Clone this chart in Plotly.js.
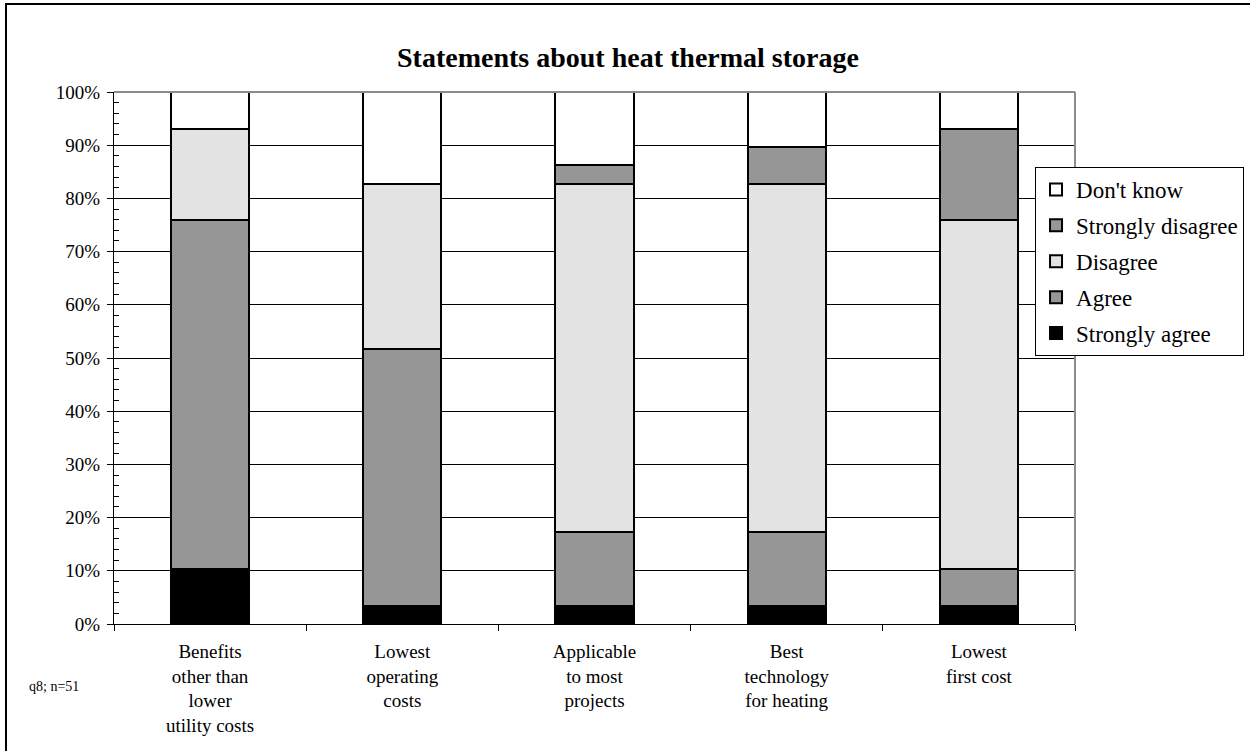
<!DOCTYPE html>
<html>
<head>
<meta charset="utf-8">
<script src="https://cdn.plot.ly/plotly-3.0.1.min.js"></script>
<style>
html,body{margin:0;padding:0;background:#fff;}
#wrap{position:relative;width:1250px;height:751px;overflow:hidden;}
#frame{position:absolute;left:5px;top:3px;width:1300px;height:800px;border-left:2px solid #000;border-top:2px solid #000;pointer-events:none;}
#chart{position:absolute;left:0;top:0;width:1250px;height:751px;}
</style>
</head>
<body>
<div id="wrap">
<div id="chart"></div>
<div id="frame"></div>
</div>
<script>
const categories = [
  "Benefits<br>other than<br>lower<br>utility costs",
  "Lowest<br>operating<br>costs",
  "Applicable<br>to most<br>projects",
  "Best<br>technology<br>for heating",
  "Lowest<br>first cost"
];
const stronglyAgree    = [10.3, 3.4, 3.4, 3.4, 3.4];
const agree            = [65.5, 48.3, 13.8, 13.8, 6.9];
const disagree         = [17.2, 31.0, 65.5, 65.5, 65.5];
const stronglyDisagree = [0.0, 0.0, 3.4, 6.9, 17.2];
const dontKnow         = [6.9, 17.2, 13.8, 10.3, 6.9];
const seriesNames = ["Strongly agree", "Agree", "Disagree", "Strongly disagree", "Don't know"];
const yTickVals = [0,10,20,30,40,50,60,70,80,90,100];
const yTickText = ["0%","10%","20%","30%","40%","50%","60%","70%","80%","90%","100%"];

const seriesData = [stronglyAgree, agree, disagree, stronglyDisagree, dontKnow];
const seriesColors = ["#000000", "#969696", "#E3E3E3", "#969696", "#FFFFFF"];
const serif = "Liberation Serif, Times New Roman, serif";

const traces = seriesData.map((vals, i) => ({
  type: "bar",
  name: seriesNames[i],
  x: categories,
  y: vals,
  legendgroup: "g" + i,
  legendrank: 1000 - i * 10,
  marker: {color: seriesColors[i], line: {color: "#000000", width: 2}},
  hoverinfo: "skip"
}));

const layout = {
  width: 1250, height: 751,
  margin: {l: 114, r: 175, t: 92, b: 127, autoexpand: false},
  paper_bgcolor: "#ffffff",
  plot_bgcolor: "#ffffff",
  font: {family: serif, color: "#000", size: 19},
  barmode: "stack",
  barnorm: "percent",
  bargap: 0.593,
  title: {text: "<b>Statements about heat thermal storage</b>", x: 0.5024, xanchor: "center", y: 0.924, yanchor: "middle",
          font: {family: serif, size: 28, color: "#000"}},
  xaxis: {
    type: "category",
    showline: true, linecolor: "#000", linewidth: 1,
    ticks: "outside", tickson: "boundaries", ticklen: 6, tickcolor: "#000", tickwidth: 1,
    ticklabelstandoff: 10,
    showgrid: false,
    tickfont: {family: serif, size: 19},
    fixedrange: true
  },
  yaxis: {
    range: [0, 100],
    tickvals: yTickVals, ticktext: yTickText,
    showline: true, linecolor: "#000", linewidth: 1,
    ticks: "outside", ticklen: 6, tickcolor: "#000", tickwidth: 1,
    ticklabelstandoff: 3,
    minor: {dtick: 2, ticks: "inside", ticklen: 5, tickcolor: "#000", tickwidth: 1, showgrid: false},
    showgrid: true, gridcolor: "#000", gridwidth: 1,
    zeroline: false,
    tickfont: {family: serif, size: 19},
    fixedrange: true
  },
  legend: {
    x: 0.9584, xanchor: "left", y: 0.859, yanchor: "top",
    bgcolor: "#ffffff", bordercolor: "#000", borderwidth: 1,
    traceorder: "grouped",
    tracegroupgap: 3,
    font: {family: serif, size: 23, color: "#000"}
  },
  shapes: [
    {type: "line", xref: "paper", yref: "paper", x0: 0, x1: 1, y0: 1, y1: 1, line: {color: "#8c8c8c", width: 2}},
    {type: "line", xref: "paper", yref: "paper", x0: 1, x1: 1, y0: 0, y1: 1, line: {color: "#8c8c8c", width: 2}}
  ],
  annotations: [
    {text: "q8; n=51", xref: "paper", yref: "paper", x: -0.0625, y: -0.118, xanchor: "center", yanchor: "middle",
     showarrow: false, font: {family: serif, size: 14, color: "#000"}}
  ]
};

Plotly.newPlot("chart", traces, layout, {displayModeBar: false, staticPlot: true});
</script>
</body>
</html>
